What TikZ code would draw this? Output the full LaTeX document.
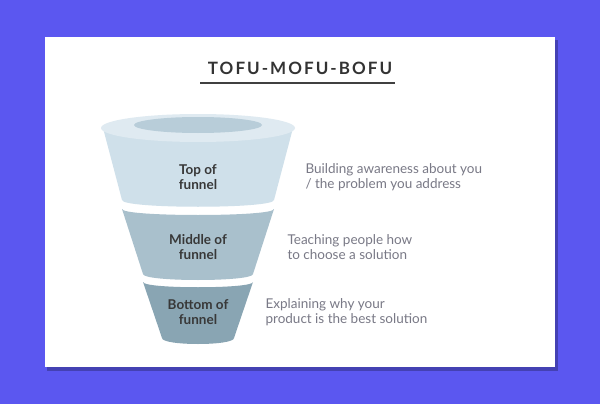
\documentclass[tikz,border=0pt]{standalone}
\usepackage{fontspec}
\setmainfont{Lato}
\newfontfamily\titlefont[LetterSpace=12]{Lato Bold}
\begin{document}
\begin{tikzpicture}[x=1pt,y=-1pt,
  lab/.style={font=\fontsize{13.5}{15.5}\selectfont\bfseries, text=black!78, align=center},
  desc/.style={font=\fontsize{13.5}{15.5}\selectfont, text=gray!95!blue, align=left, anchor=west}]
\definecolor{bg}{HTML}{5B57F0}
\definecolor{c1}{HTML}{CFE0EA}
\definecolor{c2}{HTML}{A9C0CC}
\definecolor{c3}{HTML}{89A5B3}
\definecolor{rim}{HTML}{DFEAF1}
\definecolor{inner}{HTML}{B8CDD9}
\fill[bg] (0,0) rectangle (600,404);
\useasboundingbox (0,0) rectangle (600,404);
\fill[black,opacity=0.25] (47,40) rectangle (558,371);
\fill[white] (45,37) rectangle (555,367);
\node[font=\fontsize{17}{20}\selectfont, text=black!80] (title) at (300,68) {\titlefont TOFU-MOFU-BOFU};
\coordinate (ul) at (200,83); \coordinate (ur) at (395,83);
\draw[black!75, line width=1.2] (ul) -- (ur);
% top segment
\fill[c1] (103,128) -- (122,200) .. controls (122,209) and (274,209) .. (274,200) -- (293,128) -- cycle;
\fill[rim] (198,128) ellipse[x radius=97, y radius=14];
\fill[inner] (198,125) ellipse[x radius=64, y radius=8];
% middle
\fill[c2] (122,209) .. controls (122,217) and (274,217) .. (274,209) -- (253,274) .. controls (253,282) and (143,282) .. (143,274) -- cycle;
% bottom
\fill[c3] (143,282) .. controls (143,289) and (253,289) .. (253,282) -- (234,338) .. controls (234,346) and (162,346) .. (162,338) -- cycle;
\node[lab] (t) at (198,177) {Top of\\funnel};
\node[lab] (m) at (198,247) {Middle of\\funnel};
\node[lab] (b) at (198,312) {Bottom of\\funnel};
\node[desc] (dt) at (302,177) {Building awareness about you\\/ the problem you address};
\node[desc] (dm) at (284,247) {Teaching people how\\to choose a solution};
\node[desc] (db) at (262,312) {Explaining why your\\product is the best solution};
\end{tikzpicture}
\end{document}
